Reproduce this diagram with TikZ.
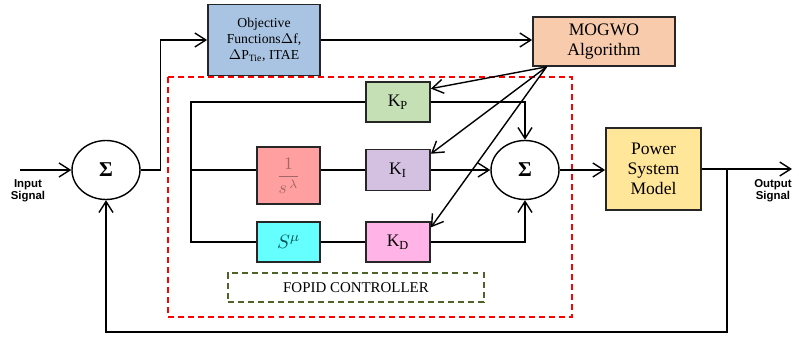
\documentclass[tikz,border=0pt]{standalone}
\usepackage{fontspec}
\setmainfont{Liberation Serif}
\newfontfamily\labelfont{Liberation Sans}
\usepackage{tikz}
\usetikzlibrary{positioning,arrows.meta,shapes.geometric,calc}

\definecolor{objblue}{HTML}{A9C4E2}
\definecolor{mogpeach}{HTML}{F8CBAD}
\definecolor{kpgreen}{HTML}{C5E0B4}
\definecolor{fracred}{HTML}{FF9F9F}
\definecolor{kililac}{HTML}{D4C1E2}
\definecolor{mucyan}{HTML}{66FFFF}
\definecolor{kdpink}{HTML}{FFB3E6}
\definecolor{pwryellow}{HTML}{FFE699}
\definecolor{fopidgreen}{HTML}{4F6228}

\begin{document}
\begin{tikzpicture}[
    x=0.02cm, y=-0.02cm,
    blk/.style = {rectangle, draw=black!85, line width=1pt, align=center,
                  inner sep=1pt},
    sumnode/.style = {ellipse, draw=black, line width=0.8pt, minimum width=1.36cm,
                      minimum height=1.18cm, font=\fontsize{12}{14}\selectfont\bfseries},
    gain/.style = {blk, minimum width=1.28cm, minimum height=0.8cm,
                   font=\fontsize{10}{12}\selectfont},
    sig/.style = {align=center, font=\labelfont\bfseries\fontsize{6.5}{6.8}\selectfont},
    wire/.style = {line width=0.8pt},
    >={Straight Barb[length=2.2mm,width=2.8mm]}
]
\useasboundingbox (0,0) rectangle (799,338);

% --- Outer loop ---
\node[sumnode] (sum1) at (106,170) {Σ};
\node[blk, fill=objblue, minimum width=2.24cm, minimum height=1.42cm,
      font=\fontsize{7.8}{9.2}\selectfont] (obj) at (264,40)
      {Objective\\Functions$\Delta$f,\\$\Delta$P\textsubscript{Tie}, ITAE};
\node[blk, fill=mogpeach, minimum width=2.84cm, minimum height=0.98cm,
      font=\fontsize{10}{11.5}\selectfont] (mogwo) at (604,41.5) {MOGWO\\Algorithm};
\node[blk, fill=pwryellow, minimum width=1.9cm, minimum height=1.64cm,
      font=\fontsize{10}{11.5}\selectfont] (power) at (653.5,169) {Power\\System\\Model};

% --- FOPID controller ---
\draw[red, line width=1pt, dash pattern=on 3.4pt off 2.3pt] (168,77) rectangle (572,317);
\node[gain, fill=kpgreen] (kp) at (398,102) {K\textsubscript{P}};
\node[gain, fill=kililac, minimum height=0.82cm] (ki) at (398,170) {K\textsubscript{I}};
\node[gain, fill=kdpink] (kd) at (398,242) {K\textsubscript{D}};
\node[blk, fill=fracred, minimum width=1.26cm, minimum height=1.14cm,
      font=\fontsize{10}{12}\selectfont, text=red!40!black!60] (frac) at (288.5,175.5)
      {$\displaystyle\frac{1}{s^{\,\lambda}}$};
\node[blk, fill=mucyan, minimum width=1.26cm, minimum height=0.8cm,
      font=\fontsize{11}{12}\selectfont, text=teal!70!black] (smu) at (288.5,242) {$S^{\mu}$};
\node[sumnode] (sum2) at (525,170) {Σ};
\node[draw=fopidgreen, line width=1pt, dash pattern=on 3.4pt off 2.3pt,
      minimum width=5.12cm, minimum height=0.58cm,
      font=\fontsize{8.5}{10}\selectfont] (fopid) at (356,287.5) {FOPID CONTROLLER};

% --- Labels and free ends ---
\node[sig] (inlbl) at (28,191) {Input\\Signal};
\node[sig] (outlbl) at (773,191) {Output\\Signal};
\coordinate (in) at (20,170);
\coordinate (out) at (792,169);
\coordinate (tap) at (727,169);
\coordinate (fb) at (727,332);
\coordinate (bus) at (191,170);
\coordinate (mg) at ($(mogwo.south west)!0.1!(mogwo.south east)$);

% --- Connectors ---
\draw[wire, ->] (in) -- (sum1.west);
\draw[wire, ->] (sum1.east) -- ++(20,0) |- (obj.west);
\draw[wire, ->] (obj.east) -- (mogwo.west |- obj.east);
\draw[wire] (kp.west) -| (bus |- smu) -- (smu.west);
\draw[wire] (bus) -- (frac.west |- bus);
\draw[wire] (frac.east |- bus) -- (ki.west);
\draw[wire] (smu.east) -- (kd.west);
\draw[wire, ->] (kp.east) -| (sum2.north);
\draw[wire, ->] (ki.east) -- (sum2.west);
\draw[wire, ->] (kd.east) -| (sum2.south);
\draw[wire, ->] (sum2.east) -- (power.west |- sum2.east);
\draw[wire, ->] (power.east |- tap) -- (out);
\draw[wire, ->] (tap) -- (fb) -| (sum1.south);
\draw[wire, ->] (mg) -- ($(kp.north east)!0.18!(kp.south east)$);
\draw[wire, ->] (mg) -- ($(ki.north east)!0.12!(ki.south east)$);
\draw[wire, ->] (mg) -- ($(kd.north east)!0.15!(kd.south east)$);

\end{tikzpicture}
\end{document}
